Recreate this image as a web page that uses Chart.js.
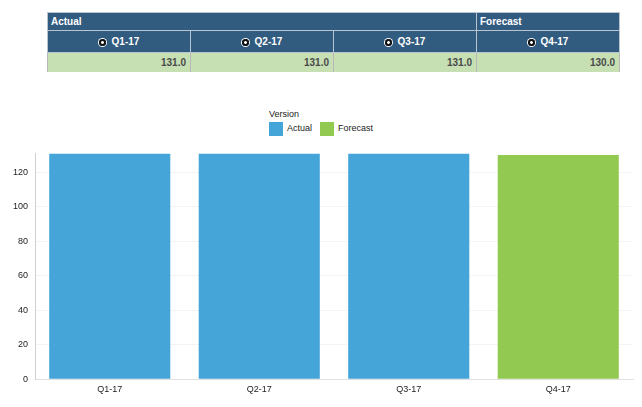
<!DOCTYPE html>
<html>
<head>
<meta charset="utf-8">
<script src="https://cdn.jsdelivr.net/npm/chart.js@4"></script>
<style>
  html, body { margin: 0; padding: 0; background: #fff; width: 642px; height: 407px; overflow: hidden; font-family: "Liberation Sans", Arial, sans-serif; }
  table { position: absolute; left: 47px; top: 12px; width: 573px; border-collapse: collapse; table-layout: fixed; font-size: 10px; }
  th { background: #325b80; color: #fff; font-weight: bold; border: 1px solid #b8c4d0; padding: 0; }
  th.grp { text-align: left; height: 17px; padding-left: 3px; }
  th.q { text-align: center; height: 21px; }
  td { background: #c6e0b4; color: #4a4a4a; font-weight: bold; text-align: right; height: 19px; padding: 0 4px 0 0; border-left: 1px solid #b8b8b8; border-right: 1px solid #b8b8b8; border-top: 1px solid #b8c4d0; }
  .dot { display: inline-block; width: 7px; height: 7px; border-radius: 50%; background: radial-gradient(circle, #fff 0 1.2px, #111 1.6px); box-shadow: 0 0 0 1px #fff; vertical-align: -1px; margin-right: 6px; }
  #legend { position: absolute; left: 269px; top: 109px; font-size: 9px; color: #222; }
  #legend .title { margin-bottom: 3px; }
  #legend .item { display: inline-block; margin-right: 8px; }
  #legend .sw { display: inline-block; width: 14px; height: 14px; vertical-align: middle; margin-right: 4px; }
  #wrap { position: absolute; left: 0; top: 141px; width: 642px; height: 259px; }
</style>
</head>
<body>
<table id="tbl"></table>
<div id="legend"></div>
<div id="wrap"><canvas id="c"></canvas></div>
<script>
const categories = ["Q1-17", "Q2-17", "Q3-17", "Q4-17"];
const groups = ["Actual", "Actual", "Actual", "Forecast"];
const actualValues = [131, 131, 131, null];
const forecastValues = [null, null, null, 130];
const tableValues = [131.0, 131.0, 131.0, 130.0];
const yTicks = [0, 20, 40, 60, 80, 100, 120];
const legendTitle = "Version";
const seriesNames = ["Actual", "Forecast"];
const colors = { Actual: "#45a5d8", Forecast: "#92c950" };

// Build table
const tbl = document.getElementById("tbl");
let r1 = "<tr>";
let i = 0;
while (i < groups.length) {
  let j = i;
  while (j < groups.length && groups[j] === groups[i]) j++;
  r1 += `<th class="grp" colspan="${j - i}">${groups[i]}</th>`;
  i = j;
}
r1 += "</tr>";
let r2 = "<tr>" + categories.map(c => `<th class="q"><span class="dot"></span>${c}</th>`).join("") + "</tr>";
let r3 = "<tr>" + tableValues.map(v => `<td>${v.toFixed(1)}</td>`).join("") + "</tr>";
tbl.innerHTML = r1 + r2 + r3;

// Legend
document.getElementById("legend").innerHTML =
  `<div class="title">${legendTitle}</div>` +
  seriesNames.map(n => `<span class="item"><span class="sw" style="background:${colors[n]}"></span>${n}</span>`).join("");

new Chart(document.getElementById("c"), {
  type: "bar",
  data: {
    labels: categories,
    datasets: [
      { label: seriesNames[0], data: actualValues, backgroundColor: colors.Actual },
      { label: seriesNames[1], data: forecastValues, backgroundColor: colors.Forecast }
    ]
  },
  options: {
    responsive: true,
    maintainAspectRatio: false,
    animation: false,
    layout: { padding: { top: 5, right: 9, left: 0, bottom: 0 } },
    plugins: { legend: { display: false }, tooltip: { enabled: false } },
    datasets: { bar: { categoryPercentage: 0.81, barPercentage: 1 } },
    scales: {
      x: {
        stacked: true,
        grid: { display: false, drawTicks: false },
        border: { color: "#e0e0e0" },
        ticks: { color: "#222", font: { size: 9, family: "Liberation Sans" }, padding: 5 }
      },
      y: {
        stacked: true,
        min: 0, max: 131,
        afterFit: s => { s.width = 35; },
        afterBuildTicks: s => { s.ticks = yTicks.map(v => ({ value: v })); },
        grid: { color: "#f3f3f3", drawTicks: false },
        border: { color: "#d0d0d0" },
        ticks: { color: "#222", font: { size: 9, family: "Liberation Sans" }, padding: 7 }
      }
    }
  }
});
</script>
</body>
</html>
